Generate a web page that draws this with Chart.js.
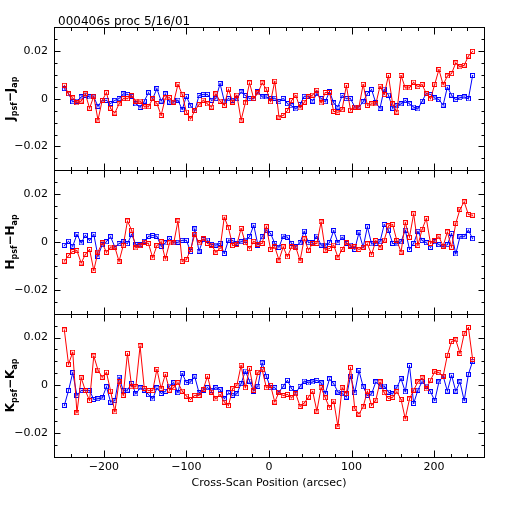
<!DOCTYPE html>
<html>
<head>
<meta charset="utf-8">
<script src="https://cdn.jsdelivr.net/npm/chart.js@4.4.1/dist/chart.umd.min.js"></script>
<style>
    html, body { margin: 0; padding: 0; background: #fff; }
    canvas { display: block; }
</style>
</head>
<body>
<canvas id="scanChart" width="512" height="512"></canvas>
<script>
    // cross-scan positions (arcsec), one per sample
    var scanPos = [
        -248.0, -242.9, -237.8, -232.7, -227.6, -222.5, -217.4, -212.3, -207.2, -202.1,
        -197.0, -191.9, -186.8, -181.7, -176.6, -171.5, -166.4, -161.3, -156.2, -151.1,
        -146.0, -140.9, -135.8, -130.7, -125.6, -120.5, -115.4, -110.3, -105.2, -100.1,
        -95.0, -89.9, -84.8, -79.7, -74.6, -69.5, -64.4, -59.3, -54.2, -49.1,
        -44.0, -38.9, -33.8, -28.7, -23.6, -18.5, -13.4, -8.3, -3.2, 1.9,
        7.0, 12.1, 17.2, 22.3, 27.4, 32.5, 37.6, 42.7, 47.8, 52.9,
        58.0, 63.1, 68.2, 73.3, 78.4, 83.5, 88.6, 93.7, 98.8, 103.9,
        109.0, 114.1, 119.2, 124.3, 129.4, 134.5, 139.6, 144.7, 149.8, 154.9,
        160.0, 165.1, 170.2, 175.3, 180.4, 185.5, 190.6, 195.7, 200.8, 205.9,
        211.0, 216.1, 221.2, 226.3, 231.4, 236.5, 241.6, 246.7
    ];

    var jRed = [
        0.0056, 0.002, 0.0003, -0.0018, -0.001, 0.002, -0.004, 0.001, -0.009, -0.0007,
        0.0025, -0.004, -0.006, -0.0022, 0, 0, 0.0013, -0.001, -0.001, -0.0034,
        -0.0034, 0, -0.002, -0.007, 0.0003, 0.0004, -0.0014, 0.006, 0.0018, -0.0056,
        -0.0085, -0.005, -0.0025, -0.0006, -0.0022, -0.0035, 0.002, -0.001, -0.0028, 0.004,
        -0.0014, 0.0015, -0.009, -0.0018, 0.0066, 0, 0.0024, 0.0066, 0.004, -0.0013,
        0.0073, -0.0077, -0.007, -0.005, -0.0008, 0.0014, -0.0039, -0.0015, 0.0007, 0.0015,
        0.0035, -0.0018, 0.0026, 0.0026, -0.0053, -0.0057, -0.0046, 0.0055, -0.0048, -0.0035,
        -0.0035, 0.006, -0.0028, -0.0022, -0.0022, 0.0052, 0.0017, 0.0097, -0.0022, -0.0056,
        0.0097, 0.0045, 0.0045, 0.0069, 0.005, 0.0059, 0.0021, -0.0001, 0.006, 0.0122,
        0.0058, 0.0095, 0.0105, 0.015, 0.0133, 0.014, 0.0178, 0.0198
    ];
    var jBlue = [
        0.0042, 0.002, -0.0013, -0.001, 0.0007, 0.0015, 0.0007, 0.0007, -0.0032, -0.0007,
        -0.0007, -0.002, -0.0007, 0, 0.002, 0.0018, 0.001, -0.0022, -0.0036, -0.001,
        0.0025, 0, 0.0042, -0.001, 0.002, -0.0014, -0.0014, -0.0006, -0.0046, 0.001,
        -0.003, -0.005, 0.0013, 0.0018, 0.0018, -0.0007, 0, 0.0063, -0.001, 0,
        -0.0007, 0, 0.0028, 0.0013, 0, 0, 0.0028, 0.0007, 0.0007, 0,
        0.0002, -0.0013, 0.0001, -0.0021, -0.003, -0.0043, -0.0024, 0.001, 0.001, -0.001,
        0.0021, 0, -0.0013, 0.003, -0.0018, -0.0035, 0.0013, 0, 0, -0.0035,
        -0.0035, -0.0013, 0.0021, 0.0038, -0.0018, -0.004, 0.004, 0.0015, -0.004, -0.003,
        -0.0022, -0.0008, -0.0022, -0.0035, -0.0043, -0.0011, 0.0022, 0.0017, 0.0003, -0.0004,
        -0.0027, 0.0048, 0.0015, -0.0004, 0.0004, 0.0007, -0.0001, 0.0097
    ];

    var hRed = [
        -0.008, -0.0057, -0.004, -0.0036, -0.0088, -0.0052, -0.0031, -0.0119, -0.0042, -0.0004,
        -0.0043, -0.0021, -0.0021, -0.0081, -0.0015, 0.0088, 0.0049, -0.0025, -0.0015, -0.0001,
        -0.0007, -0.0066, -0.0015, 0.0001, -0.0071, -0.0004, -0.0004, 0.0088, -0.0081, -0.0074,
        -0.0032, 0.0032, -0.0004, 0.0013, -0.0006, -0.0013, -0.0043, -0.0027, 0.0104, 0.0059,
        -0.0015, -0.001, 0.0057, -0.0003, -0.0028, 0.0003, -0.001, -0.0006, 0.0064, -0.0031,
        -0.002, -0.0076, -0.002, -0.0062, -0.002, -0.0022, -0.0078, 0.0013, -0.0034, -0.0006,
        -0.0006, 0.0084, -0.0034, -0.0027, -0.0013, -0.0064, -0.0031, -0.0003, -0.0017, -0.002,
        -0.0031, -0.0022, -0.0008, -0.0053, 0.0006, -0.0022, 0.0008, 0.0067, 0.0073, 0.0006,
        -0.0042, 0.0081, 0.002, 0.0118, -0.0014, 0.0053, 0.0098, -0.0006, 0.0006, 0.0022,
        -0.0017, 0.0042, -0.0022, 0.0078, 0.0137, 0.0168, 0.0115, 0.0112
    ];
    var hBlue = [
        -0.0014, 0.0003, -0.0018, 0.0032, -0.0004, 0.0028, 0.0006, 0.0032, -0.006, -0.0011,
        0.0001, 0.0022, -0.0021, -0.0007, 0.0001, -0.0007, 0.0032, -0.0011, -0.0011, 0.0003,
        0.0024, 0.0027, 0.0024, -0.0018, -0.0004, 0.0014, -0.0004, -0.0001, 0.0007, 0.0007,
        -0.004, 0.0055, -0.0038, 0.001, 0.0008, -0.001, -0.0013, -0.0006, -0.0048, 0.0008,
        0.0006, -0.0006, 0.0001, 0.0008, 0.0022, 0.007, -0.0013, 0.0022, 0.0048, 0.0036,
        -0.0006, -0.0022, 0.0025, 0.002, -0.0006, -0.002, -0.0003, 0.0045, -0.0003, -0.0003,
        0.0025, -0.0013, -0.0013, -0.0003, 0.0048, -0.0003, 0.002, -0.0006, -0.0013, -0.0031,
        0.0039, -0.0022, 0.0064, -0.0008, -0.0006, 0.0001, 0.0073, 0.005, -0.0006, -0.0008,
        0.0001, 0.005, -0.0031, -0.0006, 0.0045, 0.0006, -0.0003, -0.0022, 0.0001, -0.0011,
        -0.002, -0.0011, 0.0036, -0.005, 0.0022, 0.0022, 0.005, 0.0014
    ];

    var kRed = [
        0.0232, 0.0088, 0.0139, -0.0115, 0.0032, -0.0022, -0.0064, 0.0123, 0.0064, 0.0034,
        0.0055, -0.0024, -0.0111, 0.0015, -0.0042, 0.0134, -0.0006, -0.0006, 0.0165, -0.0013,
        -0.0022, -0.0022, 0.0067, -0.0014, 0.0046, -0.002, -0.001, 0.0011, -0.0024, -0.0045,
        -0.0059, -0.0042, -0.0042, -0.0017, 0.0038, -0.0028, -0.0057, -0.0038, -0.007, -0.0085,
        -0.0014, 0, 0.0084, -0.001, 0.007, -0.0021, 0.0055, 0.0066, -0.001, 0,
        -0.007, -0.0028, -0.0043, -0.0038, -0.0052, -0.0035, -0.0088, -0.0074, -0.0049, -0.0025,
        -0.0108, -0.001, -0.0052, -0.0094, -0.0066, -0.0172, -0.001, -0.0035, 0.0074, -0.0098,
        -0.012, -0.009, -0.0024, -0.0084, -0.0062, 0.0014, -0.0031, -0.0055, -0.005, -0.0027,
        -0.0059, -0.014, -0.0057, -0.002, 0.0014, 0.0031, -0.0015, 0.0022, 0.0057, 0.0053,
        0.0039, 0.0126, 0.0183, 0.019, 0.0134, 0.0216, 0.0242, 0.0109
    ];
    var kBlue = [
        -0.0084, -0.0022, 0.0053, -0.0042, -0.0022, -0.0022, -0.0022, -0.0059, -0.0056, -0.0053,
        -0.0006, -0.007, -0.0064, 0.0034, -0.0022, -0.002, 0.0008, -0.0036, -0.0011, -0.002,
        -0.0039, -0.0057, -0.0011, -0.0034, -0.0025, -0.0003, 0.0011, -0.0031, 0.005, 0.0011,
        0.0014, 0.0036, -0.0031, -0.002, -0.001, -0.0021, -0.001, -0.0018, -0.0056, -0.0032,
        -0.0042, -0.0035, 0.0007, 0.006, 0.0018, -0.0024, -0.0004, 0.0094, 0.0038, -0.001,
        -0.001, -0.0028, -0.0004, 0.0021, -0.0014, -0.0032, -0.0004, 0.0018, 0.001, 0.0014,
        0.0021, 0.001, -0.0035, 0.0027, 0.0007, -0.0028, -0.0035, -0.0049, 0.0039, -0.0031,
        0.0062, -0.0006, -0.0042, -0.0036, 0.0014, -0.0003, -0.0003, -0.0028, -0.0036, -0.0008,
        0.0028, -0.0027, 0.0083, -0.0076, -0.002, 0.0015, -0.0003, -0.0027, -0.0064, 0.0014,
        0.0039, -0.0024, 0.0042, -0.0024, 0.0014, -0.0064, 0.0046, 0.0101
    ];

    var xTicks = [-200, -100, 0, 100, 200];
    var xTickLabels = ['\u2212200', '\u2212100', '0', '100', '200'];
    var yTicks = [-0.02, 0, 0.02];
    var yTickLabels = ['\u22120.02', '0', '0.02'];

    var headerText = '000406s proc 5/16/01';
    var xTitle = 'Cross-Scan Position (arcsec)';
    // [band letter, panel scale id], top to bottom
    var panels = [['J', 'yJ'], ['H', 'yH'], ['K', 'yK']];

    var RED = '#ff0000';
    var BLUE = '#0000ff';
    var FONT = '"DejaVu Sans", sans-serif';

    // small open box with a dot in the middle
    function makeMarker(color) {
        var c = document.createElement('canvas');
        c.width = 5;
        c.height = 5;
        var g = c.getContext('2d');
        g.fillStyle = color;
        g.fillRect(0, 0, 5, 5);
        g.clearRect(1, 1, 3, 3);
        g.fillRect(2, 2, 1, 1);
        return c;
    }

    function series(ys) {
        return scanPos.map(function (x, i) { return {x: x, y: ys[i]}; });
    }

    function dataset(ys, color, axis) {
        return {
            data: series(ys),
            yAxisID: axis,
            borderColor: color,
            backgroundColor: color,
            borderWidth: 1,
            pointStyle: makeMarker(color),
            pointRadius: 3,
            pointHoverRadius: 3,
            tension: 0
        };
    }

    function yScale() {
        return {
            type: 'linear',
            position: 'left',
            stack: 'bands',
            min: -0.03,
            max: 0.03,
            grid: {display: false, drawTicks: false},
            border: {display: false},
            afterBuildTicks: function (s) {
                s.ticks = yTicks.map(function (v) { return {value: v}; });
            },
            afterFit: function (s) { s.width = 54; },
            ticks: {
                padding: 6,
                color: '#000',
                font: {family: FONT, size: 11},
                callback: function (v, i) { return yTickLabels[i]; }
            }
        };
    }

    // PGPLOT-like boxes: frame, inward ticks on all four sides, axis titles
    var framePlugin = {
        id: 'framePlugin',
        afterDraw: function (chart) {
            var ctx = chart.ctx;
            var area = chart.chartArea;
            var xs = chart.scales.x;
            ctx.save();
            ctx.strokeStyle = '#000';
            ctx.lineWidth = 1;
            panels.forEach(function (p) {
                var s = chart.scales[p[1]];
                var top = Math.round(s.top) + 0.5;
                var bot = Math.round(s.bottom) + 0.5;
                var left = Math.round(area.left) + 0.5;
                var right = Math.round(area.right) + 0.5;
                ctx.strokeRect(left, top, right - left, bot - top);
                ctx.beginPath();
                for (var k = -5; k <= 5; k++) {
                    var py = Math.round(s.getPixelForValue(k * 0.005)) + 0.5;
                    var len = (k % 4 === 0) ? 6 : 3;
                    ctx.moveTo(left, py); ctx.lineTo(left + len, py);
                    ctx.moveTo(right, py); ctx.lineTo(right - len, py);
                }
                for (var m = -13; m <= 13; m++) {
                    var px = Math.round(xs.getPixelForValue(m * 20)) + 0.5;
                    var xl = (m % 5 === 0) ? 7 : 3.5;
                    ctx.moveTo(px, top); ctx.lineTo(px, top + xl);
                    ctx.moveTo(px, bot); ctx.lineTo(px, bot - xl);
                }
                ctx.stroke();

                // rotated axis title: B_psf - B_ap
                var parts = [[p[0], 12, 0], ['psf', 8, 3], ['\u2212' + p[0], 12, 0], ['ap', 8, 3]];
                var total = 0;
                parts.forEach(function (q) {
                    ctx.font = 'bold ' + q[1] + 'px ' + FONT;
                    q.push(ctx.measureText(q[0]).width);
                    total += q[3];
                });
                ctx.translate(14, (s.top + s.bottom) / 2);
                ctx.rotate(-Math.PI / 2);
                ctx.fillStyle = '#000';
                ctx.textBaseline = 'alphabetic';
                var cx = -total / 2;
                parts.forEach(function (q) {
                    ctx.font = 'bold ' + q[1] + 'px ' + FONT;
                    ctx.fillText(q[0], cx, q[2]);
                    cx += q[3];
                });
                ctx.setTransform(1, 0, 0, 1, 0, 0);
            });
            ctx.fillStyle = '#000';
            ctx.font = '12px ' + FONT;
            ctx.textBaseline = 'alphabetic';
            ctx.fillText(headerText, 58, 25);
            ctx.restore();
        }
    };

    var chartCanvas = document.getElementById('scanChart').getContext('2d');
    var scanChart = new Chart(chartCanvas, {
        type: 'line',
        data: {
            datasets: [
                dataset(jRed, RED, 'yJ'),
                dataset(jBlue, BLUE, 'yJ'),
                dataset(hRed, RED, 'yH'),
                dataset(hBlue, BLUE, 'yH'),
                dataset(kRed, RED, 'yK'),
                dataset(kBlue, BLUE, 'yK')
            ]
        },
        options: {
            responsive: false,
            animation: false,
            events: [],
            layout: {padding: {left: 0, top: 27, right: 28, bottom: 0}},
            plugins: {
                legend: {display: false},
                tooltip: {enabled: false}
            },
            scales: {
                x: {
                    type: 'linear',
                    position: 'bottom',
                    min: -260.5,
                    max: 260.5,
                    grid: {display: false, drawTicks: false},
                    border: {display: false},
                    afterBuildTicks: function (s) {
                        s.ticks = xTicks.map(function (v) { return {value: v}; });
                    },
                    afterFit: function (s) { s.height = 55; },
                    ticks: {
                        padding: 4,
                        maxRotation: 0,
                        color: '#000',
                        font: {family: FONT, size: 11},
                        callback: function (v, i) { return xTickLabels[i]; }
                    },
                    title: {
                        display: true,
                        text: xTitle,
                        color: '#000',
                        font: {family: FONT, size: 11},
                        padding: {top: 4, bottom: 22}
                    }
                },
                yK: yScale(),
                yH: yScale(),
                yJ: yScale()
            }
        },
        plugins: [framePlugin]
    });
</script>
</body>
</html>
